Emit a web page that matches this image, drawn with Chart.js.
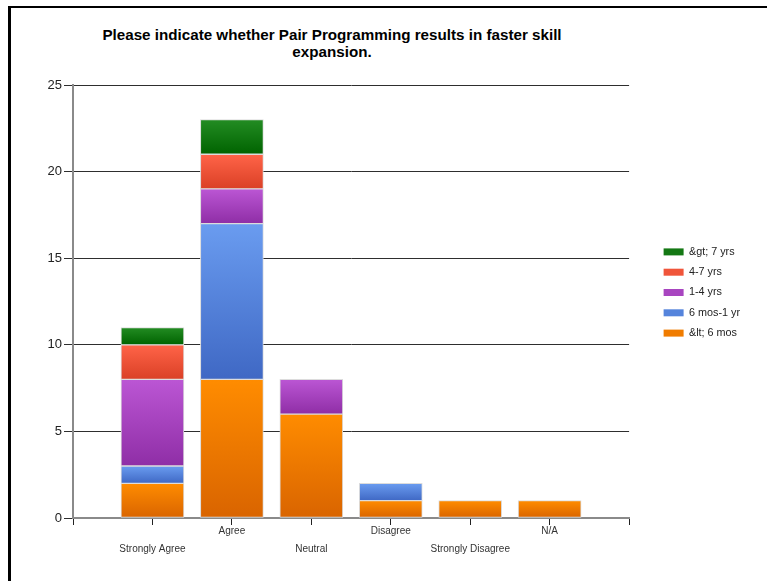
<!DOCTYPE html>
<html>
<head>
<meta charset="utf-8">
<script src="https://cdn.jsdelivr.net/npm/chart.js@4"></script>
<style>
  html, body { margin: 0; padding: 0; background: #fff; }
  #wrap { position: relative; width: 767px; height: 581px; overflow: hidden; }
  #frame { position: absolute; left: 8px; top: 6px; width: 900px; height: 700px;
           border-left: 3px solid #000; border-top: 2px solid #000; }
  #title { position: absolute; left: 62px; top: 26px; width: 540px; text-align: center;
           font: bold 15.2px "Liberation Sans", Arial, sans-serif; line-height: 17px; color: #000; }
  canvas { position: absolute; left: 0; top: 0; }
</style>
</head>
<body>
<div id="wrap">
  <div id="frame"></div>
  <div id="title">Please indicate whether Pair Programming results in faster skill<br>expansion.</div>
  <canvas id="chart" width="767" height="581"></canvas>
</div>
<script>
// answers on the x axis
var categories = ['Strongly Agree', 'Agree', 'Neutral', 'Disagree', 'Strongly Disagree', 'N/A'];

// experience groups, bottom of the stack first
var seriesNames = ['&lt; 6 mos', '6 mos-1 yr', '1-4 yrs', '4-7 yrs', '&gt; 7 yrs'];
var lessThan6mos = [2, 8, 6, 1, 1, 1];
var sixMosTo1yr  = [1, 9, 0, 1, 0, 0];
var oneTo4yrs    = [5, 2, 2, 0, 0, 0];
var fourTo7yrs   = [2, 2, 0, 0, 0, 0];
var over7yrs     = [1, 2, 0, 0, 0, 0];

var yTicks = [0, 5, 10, 15, 20, 25];

var topColors    = ['#ff8c00', '#6a9cf0', '#bb56d4', '#ff6448', '#238c23'];
var bottomColors = ['#d96400', '#3f68c4', '#8f2ea6', '#da4026', '#006300'];
var legendColors = ['#f07c00', '#5584dc', '#a845c0', '#f0553a', '#147814'];

var seriesData = [lessThan6mos, sixMosTo1yr, oneTo4yrs, fourTo7yrs, over7yrs];

// empty slot on each side of the answers, like the original axis
var labels = [''].concat(categories).concat(['']);

function padded(arr) {
    return [null].concat(arr.map(function (v) { return v === 0 ? null : v; })).concat([null]);
}

function segmentFill(i) {
    return function (ctx) {
        var chart = ctx.chart;
        if (ctx.type !== 'data' || !chart.chartArea || !chart.scales.y) return legendColors[i];
        var idx = ctx.dataIndex - 1;
        if (idx < 0 || idx >= categories.length) return legendColors[i];
        var start = 0;
        for (var d = 0; d < i; d++) start += seriesData[d][idx];
        var end = start + seriesData[i][idx];
        var y = chart.scales.y;
        var top = y.getPixelForValue(end), bottom = y.getPixelForValue(start);
        if (!isFinite(top) || !isFinite(bottom) || top === bottom) return legendColors[i];
        var g = chart.ctx.createLinearGradient(0, top, 0, bottom);
        g.addColorStop(0, topColors[i]);
        g.addColorStop(1, bottomColors[i]);
        return g;
    };
}

var datasets = seriesNames.map(function (name, i) {
    return {
        label: name,
        data: padded(seriesData[i]),
        backgroundColor: segmentFill(i),
        borderColor: '#dcdcdc',
        borderWidth: 1,
        borderSkipped: false,
        barThickness: 63
    };
});

Chart.defaults.font.family = '"Liberation Sans", Arial, sans-serif';
Chart.defaults.color = '#222';

var ctx = document.getElementById('chart').getContext('2d');
var chart = new Chart(ctx, {
    type: 'bar',
    data: { labels: labels, datasets: datasets },
    options: {
        responsive: false,
        animation: false,
        events: [],
        layout: { padding: { top: 85, right: 17, bottom: 0, left: 0 } },
        plugins: {
            title: { display: false },
            tooltip: { enabled: false },
            legend: {
                position: 'right',
                fullSize: false,
                align: 'start',
                reverse: true,
                // empty title only used to push the items down to mid height
                title: { display: true, text: '', font: { size: 10, lineHeight: 1 }, padding: { top: 142, bottom: 0 } },
                labels: {
                    boxWidth: 20,
                    boxHeight: 7,
                    padding: 9.5,
                    font: { size: 10.8 },
                    color: '#222',
                    generateLabels: function () {
                        return seriesNames.map(function (n, i) {
                            return { text: n, fillStyle: legendColors[i], strokeStyle: legendColors[i],
                                     lineWidth: 0, hidden: false, datasetIndex: i };
                        });
                    }
                }
            }
        },
        scales: {
            x: {
                stacked: true,
                offset: false,
                grid: { offset: false, drawOnChartArea: false, drawTicks: true, tickLength: 7, color: '#222' },
                border: { color: '#8a8a8a', width: 2 },
                ticks: {
                    autoSkip: false,
                    maxRotation: 0,
                    minRotation: 0,
                    padding: -3,
                    font: { size: 10, lineHeight: '18px' },
                    color: '#333',
                    callback: function (value, index) {
                        var text = labels[index];
                        if (!text) return '';
                        // answers alternate between two rows
                        return index % 2 === 1 ? ['', text] : text;
                    }
                },
                afterFit: function (s) { s.height = 63; }
            },
            y: {
                stacked: true,
                min: 0,
                max: 25,
                afterBuildTicks: function (s) { s.ticks = yTicks.map(function (v) { return { value: v }; }); },
                grid: { color: '#2e2e2e', lineWidth: 1, tickLength: 9 },
                border: { color: '#8a8a8a', width: 2 },
                ticks: { padding: 2, font: { size: 13 }, color: '#222' },
                afterFit: function (s) { s.width = 73; }
            },
            y2: {
                position: 'right',
                display: true,
                grid: { display: false },
                border: { display: false },
                ticks: { display: false },
                afterFit: function (s) { s.width = 25; }
            }
        }
    }
});
</script>
</body>
</html>
